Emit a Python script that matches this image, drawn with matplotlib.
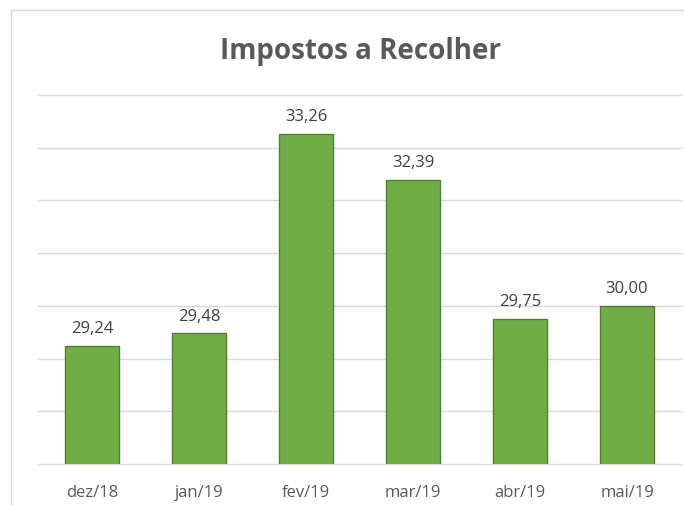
import matplotlib
matplotlib.use("Agg")
import matplotlib.pyplot as plt
from matplotlib.patches import Rectangle

months = ["dez/18", "jan/19", "fev/19", "mar/19", "abr/19", "mai/19"]
values = [29.24, 29.48, 33.26, 32.39, 29.75, 30.00]
labels = ["29,24", "29,48", "33,26", "32,39", "29,75", "30,00"]

plt.rcParams["font.family"] = ["Open Sans", "DejaVu Sans"]

fig = plt.figure(figsize=(6.84, 5.06), dpi=100)
fig.patches.append(Rectangle((11 / 684, -0.1), 1.2, 1.1 - 11 / 506, transform=fig.transFigure,
                             fill=False, edgecolor="#D9D9D9", linewidth=1.0))
ax = fig.add_axes([38 / 684, 1 - 465 / 506, (680.5 - 38) / 684, (465 - 96) / 506])

x = list(range(len(months)))
ax.bar(x, values, width=0.505, bottom=0, color="#70AD47", edgecolor="#507E32", linewidth=1.0, zorder=3)
ax.set_ylim(27, 34)
ax.set_xlim(-0.505, 5.5)
ax.set_yticks(range(27, 35))
ax.yaxis.grid(True, color="#D9D9D9", linewidth=1.0, zorder=0)
for gl in ax.get_ygridlines():
    gl.set_clip_on(False)
ax.tick_params(axis="y", left=False, labelleft=False)
ax.tick_params(axis="x", bottom=False, pad=11, labelsize=12, labelcolor="#595959")
ax.set_xticks(x)
ax.set_xticklabels(months)
for s in ax.spines.values():
    s.set_visible(False)

for xi, v, lab in zip(x, values, labels):
    ax.annotate(lab, (xi, v), xytext=(0, 7), textcoords="offset points",
                ha="center", va="bottom", fontsize=12, color="#404040")

fig.text(361 / 684, 1 - 51 / 506, "Impostos a Recolher", ha="center", va="center",
         fontsize=20, fontweight="bold", color="#595959")

fig.savefig("out.png", dpi=100)
